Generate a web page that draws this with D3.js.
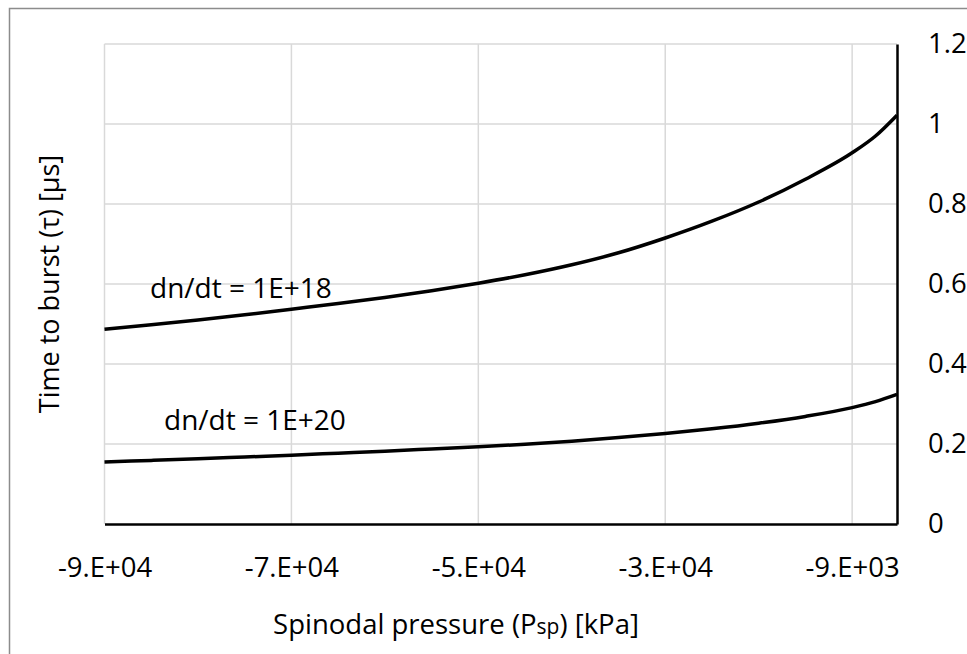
<!DOCTYPE html>
<html>
<head>
<meta charset="utf-8">
<script src="https://cdn.jsdelivr.net/npm/d3@7"></script>
<style>
  body { margin: 0; background: #fff; }
  text { font-family: 'Open Sans', sans-serif; fill: #000; }
</style>
</head>
<body>
<div id="chart"></div>
<script>
// Spinodal pressure values (kPa) where the curves were read.
var pressure = [-90000, -85000, -80000, -75000, -70000, -65000, -60000, -55000, -50000,
                -45000, -40000, -35000, -30000, -25000, -20000, -15000, -10000, -7500, -5200];

// Time to burst (us) for the two nucleation rates.
var tau18 = [0.487, 0.498, 0.510, 0.523, 0.537, 0.551, 0.566, 0.583, 0.602,
             0.623, 0.648, 0.678, 0.715, 0.757, 0.805, 0.862, 0.928, 0.970, 1.022];
var tau20 = [0.155, 0.159, 0.163, 0.1675, 0.172, 0.177, 0.182, 0.1875, 0.193,
             0.1995, 0.207, 0.216, 0.226, 0.238, 0.252, 0.269, 0.291, 0.306, 0.324];

// Axis ticks and their labels as shown in the chart.
var xTicks = [-90000, -70000, -50000, -30000, -10000];
var xTickLabels = ['-9.E+04', '-7.E+04', '-5.E+04', '-3.E+04', '-9.E+03'];
var yTicks = [0, 0.2, 0.4, 0.6, 0.8, 1, 1.2];

// Series labels and where they sit (in data units).
var seriesLabels = ['dn/dt = 1E+18', 'dn/dt = 1E+20'];
var labelAt = [[-75400, 0.565], [-73900, 0.235]];

var width = 967,
    height = 654;
var plot = {left: 104.5, right: 897, top: 44, bottom: 524};

var svg = d3.select('#chart')
    .append('svg')
        .attr('width', width)
        .attr('height', height);

// Outer chart border (only top and left fall inside the picture).
svg.append('rect')
    .attr('x', 9.5)
    .attr('y', 8.5)
    .attr('width', 1000)
    .attr('height', 700)
    .attr('fill', 'none')
    .attr('stroke', '#8c8c8c')
    .attr('stroke-width', 1.5);

var x = d3.scaleLinear()
    .domain([-90000, -5200])
    .range([plot.left, plot.right]);

var y = d3.scaleLinear()
    .domain([0, 1.2])
    .range([plot.bottom, plot.top]);

// Gridlines.
svg.append('g')
    .selectAll('line')
    .data(xTicks)
    .enter().append('line')
        .attr('x1', function(d){ return x(d); })
        .attr('x2', function(d){ return x(d); })
        .attr('y1', y(0))
        .attr('y2', y(1.2))
        .attr('stroke', '#d9d9d9')
        .attr('stroke-width', 1.5);

svg.append('g')
    .selectAll('line')
    .data(yTicks.slice(1))
    .enter().append('line')
        .attr('x1', x(-90000))
        .attr('x2', x(-5200))
        .attr('y1', function(d){ return y(d); })
        .attr('y2', function(d){ return y(d); })
        .attr('stroke', '#d9d9d9')
        .attr('stroke-width', 1.5);

// The x-axis.
var xAxisCall = d3.axisBottom(x)
    .tickValues(xTicks)
    .tickSize(0)
    .tickPadding(33)
    .tickFormat(function(d, i){ return xTickLabels[i]; });

var xg = svg.append('g')
    .attr('transform', 'translate(0, ' + y(0) + ')')
    .call(xAxisCall);
xg.select('.domain').attr('stroke', '#000').attr('stroke-width', 2.5);
xg.selectAll('text').style('font-size', '27.5px').attr('fill', '#000');

// The y-axis, drawn on the right.
var yAxisCall = d3.axisRight(y)
    .tickValues(yTicks)
    .tickSize(0)
    .tickPadding(31)
    .tickFormat(d3.format('~g'));

var yg = svg.append('g')
    .attr('transform', 'translate(' + x(-5200) + ', 0)')
    .call(yAxisCall);
yg.select('.domain').attr('stroke', '#000').attr('stroke-width', 2.5);
yg.selectAll('text').style('font-size', '27.5px').attr('fill', '#000');

// Curves.
var line = d3.line()
    .x(function(d){ return x(d[0]); })
    .y(function(d){ return y(d[1]); })
    .curve(d3.curveMonotoneX);

[tau18, tau20].forEach(function(series){
    svg.append('path')
        .datum(d3.zip(pressure, series))
        .attr('d', line)
        .attr('fill', 'none')
        .attr('stroke', '#000')
        .attr('stroke-width', 3.5);
});

// Series labels.
svg.selectAll('.series-label')
    .data(seriesLabels)
    .enter().append('text')
        .attr('class', 'series-label')
        .attr('x', function(d, i){ return x(labelAt[i][0]); })
        .attr('y', function(d, i){ return y(labelAt[i][1]); })
        .attr('text-anchor', 'middle')
        .style('font-size', '28px')
        .text(function(d){ return d; });

// Axis titles.
var xTitle = svg.append('text')
    .attr('x', 456)
    .attr('y', 634)
    .attr('text-anchor', 'middle')
    .style('font-size', '27.5px');
xTitle.append('tspan').text('Spinodal pressure (P');
xTitle.append('tspan').style('font-size', '21px').text('sp');
xTitle.append('tspan').text(') [kPa]');

svg.append('text')
    .attr('transform', 'translate(59, ' + ((plot.top + plot.bottom) / 2) + ') rotate(-90)')
    .attr('text-anchor', 'middle')
    .style('font-size', '27px')
    .text('Time to burst (\u03c4) [\u03bcs]');
</script>
</body>
</html>
